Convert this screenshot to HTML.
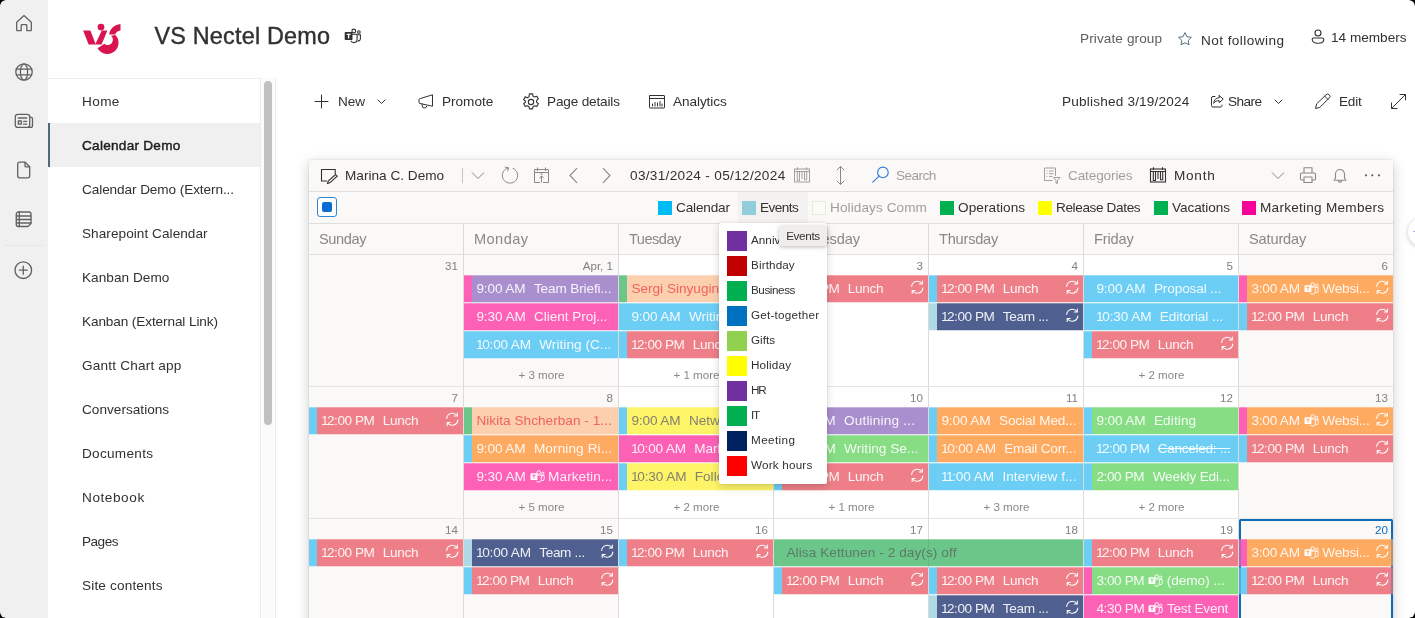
<!DOCTYPE html>
<html><head><meta charset="utf-8"><title>VS Nectel Demo - Calendar Demo</title>
<style>
*{box-sizing:border-box;margin:0;padding:0}
html,body{width:1415px;height:618px;overflow:hidden;background:#000}
body{font-family:"Liberation Sans",sans-serif;color:#323130;-webkit-font-smoothing:antialiased}
#app{position:absolute;left:0;top:0;width:1415px;height:618px;background:#fff;border-radius:6px;overflow:hidden;-webkit-mask-image:linear-gradient(#000,#000);mask-image:linear-gradient(#000,#000)}
.abs,#app div,#app svg.a,#app span.a{position:absolute}
#w{left:0;top:0;width:1415px;height:618px;will-change:transform}
#rail{left:0;top:0;width:48px;height:618px;background:#f0f0f0}
.ri{stroke:#616161;fill:none;stroke-width:1.3;stroke-linecap:round;stroke-linejoin:round}
/* nav */
#navtop{left:48px;top:78px;width:213px;height:1px;background:#ececec}
#navr{left:260px;top:78px;width:1px;height:540px;background:#ececec}
#track{left:261px;top:78px;width:14px;height:540px;background:#fbfbfb}
#trackr{left:275px;top:78px;width:1px;height:540px;background:#ececec}
#thumb{left:264px;top:81px;width:8px;height:344px;background:#c1c1c1;border-radius:4px}
.ni{left:82px;width:170px;height:20px;line-height:20px;font-size:13.6px;color:#323130;white-space:nowrap}
#sel{left:48px;top:123px;width:212px;height:44px;background:#f0f0f0}
#selbar{left:48px;top:123px;width:2px;height:44px;background:#4f6b78}
/* header */
#title{left:154.4px;top:20px;height:32px;line-height:32px;font-size:23.4px;color:#323130;white-space:nowrap;-webkit-text-stroke:0.4px #323130}
.ht{font-size:13.6px;white-space:nowrap;height:20px;line-height:20px}
.cb{font-size:13.6px;white-space:nowrap;height:20px;line-height:20px;top:92px;color:#323130}
.ic{stroke:#323130;fill:none;stroke-width:1;stroke-linecap:round;stroke-linejoin:round}
/* card */
#shadow{left:309px;top:160px;width:1084px;height:500px;box-shadow:0 3px 12px rgba(0,0,0,.2),0 0 2px rgba(0,0,0,.12);background:#faf9f8}
#card{left:309px;top:160px;width:1084px;height:458px;background:#faf9f8}
#cal{left:0;top:0;width:1415px;height:618px}
.tl{left:309px;width:1084px;height:1px;background:#e1dfdd}
.tb{font-size:13.6px;white-space:nowrap;height:20px;line-height:20px;top:166px}
.lg{font-size:13.6px;white-space:nowrap;height:20px;line-height:20px;top:198px;color:#323130}
.sq{top:201px;width:14px;height:14px}
.wk{background:#fff}
.vl{top:224px;width:1px;height:400px;background:#dddbd9}
.hl{left:309px;width:1084px;height:1px;background:#e6e4e2}
.dh{top:229px;height:20px;line-height:20px;font-size:14.6px;color:#8a8886;white-space:nowrap}
.dn{width:149px;height:20px;line-height:20px;text-align:right;font-size:11.6px;color:#83817f;white-space:nowrap}
.dn.today{color:#0f6cbd}
.more{width:155px;height:18px;line-height:18px;text-align:center;font-size:11.6px;color:#8a8886;white-space:nowrap}
.ev{height:28px;overflow:hidden;white-space:nowrap;-webkit-mask-image:linear-gradient(to bottom,rgba(0,0,0,.7) 0,rgba(0,0,0,.7) 1px,#000 1px,#000 27px,rgba(0,0,0,.25) 27px,rgba(0,0,0,.25) 28px);mask-image:linear-gradient(to bottom,rgba(0,0,0,.7) 0,rgba(0,0,0,.7) 1px,#000 1px,#000 27px,rgba(0,0,0,.25) 27px,rgba(0,0,0,.25) 28px)}
.ev i{position:absolute;left:0;top:0;width:8px;height:28px}
.ev .t{position:absolute;left:12.4px;top:1px;height:26px;line-height:26px;font-size:13.6px;color:rgba(255,255,255,.9);white-space:nowrap;font-style:normal}
.ev b{font-weight:normal;margin-right:8.4px;display:inline-block}
.ev em{font-style:normal}
.ev u{text-decoration:none;margin:0 -1.3px}
.ev u.f{margin-left:-0.3px}
.ev s{text-decoration:line-through}
.ev .tm{position:relative;top:1.5px;margin:0 3.5px 0 -4.5px}
.ev .rc{position:absolute;right:2.8px;top:4.2px}
/* popup */
#pop{left:719px;top:223px;width:108px;height:261px;background:#fff;border-radius:2px;box-shadow:0 3px 8px rgba(0,0,0,.16),0 0 2px rgba(0,0,0,.12)}
#pop .s{left:8px;width:20px;height:20px}
#pop .l{left:32px;margin-top:-1px;height:20px;line-height:20px;font-size:11.7px;color:#323130;white-space:nowrap}
#tip{left:779px;top:226px;width:48px;height:20px;background:#efeeed;border-radius:3px;box-shadow:0 1px 4px rgba(0,0,0,.28);font-size:11.7px;line-height:20px;text-align:center;color:#323130}
</style></head><body>
<div id="app">
<div id="w">

<!-- left rail -->
<div id="rail">
<svg class="a" style="left:14px;top:13px" width="20" height="20" viewBox="0 0 20 20"><path class="ri" d="M2.7 9.3 10 2.6l7.3 6.7v7.6a.8.8 0 0 1-.8.8h-3.7v-5.3a.8.8 0 0 0-.8-.8H8a.8.8 0 0 0-.8.8v5.3H3.500a.8.8 0 0 1-.8-.8z" stroke-width="1.5"/></svg>
<svg class="a" style="left:14px;top:62px" width="20" height="20" viewBox="0 0 20 20"><g class="ri" stroke-width="1.4"><circle cx="10" cy="10" r="8.2"/><ellipse cx="10" cy="10" rx="3.6" ry="8.2"/><path d="M2.3 7.2h15.400M2.3 12.800h15.400"/></g></svg>
<svg class="a" style="left:14px;top:111px" width="20" height="20" viewBox="0 0 20 20"><g class="ri" stroke-width="1.4"><rect x="1.300" y="3.400" width="14.400" height="13" rx="2.300"/><path d="M15.700 6.200h.8a2 2 0 0 1 2 2v6.200a2 2 0 0 1-2 2h-2"/><path d="M4.300 7h8.400M9.500 10.300h3.200M9.500 13.100h3.200"/><rect x="4.300" y="10" width="3" height="3.200"/></g></svg>
<svg class="a" style="left:14px;top:160px" width="20" height="20" viewBox="0 0 20 20"><g class="ri" stroke-width="1.4"><path d="M5.700 2.200h5.400l4.600 4.600v9a2 2 0 0 1-2 2H5.700a2 2 0 0 1-2-2V4.200a2 2 0 0 1 2-2z"/><path d="M11 2.400v3.300a1.200 1.200 0 0 0 1.200 1.200h3.300"/></g></svg>
<svg class="a" style="left:14px;top:209px" width="20" height="20" viewBox="0 0 20 20"><g class="ri" stroke-width="1.300"><path d="M4.300 3h10.700a2 2 0 0 1 2 2v9.500l-3 3H4.300a2 2 0 0 1-2-2V5a2 2 0 0 1 2-2z"/><path d="M2.300 7h14.700M2.300 10.500h14.700M2.300 14h14.700M5.300 3v14.500"/></g></svg>
<div style="left:4px;top:245px;width:39px;height:1px;background:#e6e6e6"></div>
<svg class="a" style="left:13px;top:260px" width="20" height="20" viewBox="0 0 20 20"><g class="ri" stroke-width="1.300"><circle cx="10.300" cy="10.200" r="8.300"/><path d="M10.300 6.200v8M6.300 10.200h8"/></g></svg>
</div>

<!-- site header -->
<svg class="a" style="left:82px;top:23px" width="41" height="33" viewBox="0 0 41 33">
<g fill="#d9154f">
<path d="M1.100 7.600h7.300l5.400 13.900h-7.200z"/>
<path d="M19.800 7.600h5.600l-5.800 13.900h-6.400z"/>
<circle cx="19" cy="4.100" r="3.400"/>
<path d="M27.200 11.400C27.700 6.500 32 1.900 38.500 1.100v6.400c-2.800.3-4.500 1.800-5.300 3.900z"/>
<path d="M33.500 12.100A11.200 11.200 0 1 1 15.600 25.300L22.300 20.800A5.200 5.200 0 0 0 29 12.800Z"/>
</g></svg>
<div id="title"><span style="letter-spacing:0.21px">VS Nectel Demo</span></div>
<svg class="a" style="left:343.700px;top:27.600px" width="18" height="16" viewBox="0 0 18 16"><g fill="none" stroke="#323130" stroke-width="1.100"><circle cx="9.800" cy="3" r="1.900"/><circle cx="14.900" cy="4" r="1.300"/><path d="M7.500 6.300h5.600v5a3.300 3.300 0 0 1-3.300 3.300 3.300 3.300 0 0 1-3-1.800"/><path d="M13.300 6.800h3.100v4a2.200 2.200 0 0 1-2.900 2"/></g><rect x=".700" y="4.100" width="7.800" height="7.900" rx=".8" fill="#323130"/><path d="M2.700 6.300h3.900M4.600 6.300v4.100" stroke="#fff" stroke-width="1.300" fill="none"/></svg>

<div class="ht" style="left:1080px;top:29px;color:#605e5c"><span style="letter-spacing:0.10px">Private group</span></div>
<svg class="a" style="left:1177px;top:31px" width="16" height="16" viewBox="0 0 18 18"><path d="M9 1.800l2.200 4.600 5 .7-3.600 3.500.9 5L9 13.200l-4.500 2.400.9-5L1.800 7.100l5-.7z" fill="none" stroke="#4f6b78" stroke-width="1.100" stroke-linejoin="round"/></svg>
<div class="ht" style="left:1201px;top:31px;color:#323130"><span style="letter-spacing:0.43px">Not following</span></div>
<svg class="a" style="left:1310px;top:28px" width="16" height="18" viewBox="0 0 16 18"><g fill="none" stroke="#323130" stroke-width="1.100"><circle cx="8" cy="5" r="3"/><path d="M3.700 10h8.600a1.500 1.500 0 0 1 1.500 1.500c0 2.300-2.300 3.800-5.800 3.800s-5.800-1.500-5.800-3.800A1.500 1.500 0 0 1 3.700 10z"/></g></svg>
<div class="ht" style="left:1331px;top:28px;color:#323130"><span style="letter-spacing:0.00px">14 members</span></div>

<!-- left nav -->
<div id="navtop"></div><div id="track"></div><div id="navr"></div><div id="trackr"></div><div id="thumb"></div>
<div id="sel"></div><div id="selbar"></div>

<div class="ni" style="top:92px"><span style="letter-spacing:0.38px">Home</span></div>
<div class="ni" style="top:136px;-webkit-text-stroke:0.45px #201f1e;color:#201f1e"><span style="letter-spacing:0.26px">Calendar Demo</span></div>
<div class="ni" style="top:180px"><span style="letter-spacing:-0.09px">Calendar Demo (Extern...</span></div>
<div class="ni" style="top:224px"><span style="letter-spacing:0.05px">Sharepoint Calendar</span></div>
<div class="ni" style="top:268px"><span style="letter-spacing:0.05px">Kanban Demo</span></div>
<div class="ni" style="top:312px"><span style="letter-spacing:-0.11px">Kanban (External Link)</span></div>
<div class="ni" style="top:356px"><span style="letter-spacing:0.19px">Gantt Chart app</span></div>
<div class="ni" style="top:400px"><span style="letter-spacing:0.02px">Conversations</span></div>
<div class="ni" style="top:444px"><span style="letter-spacing:0.28px">Documents</span></div>
<div class="ni" style="top:488px"><span style="letter-spacing:0.57px">Notebook</span></div>
<div class="ni" style="top:532px"><span style="letter-spacing:-0.51px">Pages</span></div>
<div class="ni" style="top:576px"><span style="letter-spacing:0.16px">Site contents</span></div>

<!-- command bar -->
<svg class="a" style="left:314px;top:94px" width="15" height="15" viewBox="0 0 15 15"><path class="ic" d="M7.500 1v13M1 7.500h13" stroke-width="1.200"/></svg>
<div class="cb" style="left:338px"><span style="letter-spacing:-0.10px">New</span></div>
<svg class="a" style="left:377px;top:99px" width="9" height="6" viewBox="0 0 9 6"><path class="ic" d="M1 1l3.500 3.500L8 1" stroke="#605e5c"/></svg>
<svg class="a" style="left:417px;top:93px" width="18" height="18" viewBox="0 0 18 18"><g class="ic" stroke-width="1.100"><path d="M15.500 2.200v11L3 10.500a1.200 1.200 0 0 1-1-1.200V6.800a1.200 1.200 0 0 1 1-1.200z"/><path d="M5.200 11v1.800a2.300 2.300 0 0 0 4.500.6"/></g></svg>
<div class="cb" style="left:442px"><span style="letter-spacing:-0.01px">Promote</span></div>
<svg class="a" style="left:521px;top:92px" width="20" height="20" viewBox="0 0 18 18"><g class="ic" stroke-width="1.100"><circle cx="9" cy="9" r="2.400"/><path d="M7.600 1.700h2.800l.4 2 1.500.8 1.900-.7 1.400 2.400-1.500 1.300v1.800l1.500 1.300-1.400 2.400-1.900-.7-1.500.9-.4 2H7.600l-.4-2-1.500-.9-1.900.7-1.400-2.400 1.500-1.300V8.100L2.400 6.800l1.400-2.400 1.900.7 1.500-.8z"/></g></svg>
<div class="cb" style="left:547px"><span style="letter-spacing:-0.17px">Page details</span></div>
<svg class="a" style="left:648px;top:93px" width="18" height="18" viewBox="0 0 18 18"><g class="ic" stroke-width="1.100"><rect x="1.500" y="2.500" width="15" height="12.500" rx=".5"/><path d="M1.500 5.500h15"/><path d="M4.500 13v-2M7 13V9.500M9.500 13v-3M12 13V8.500M14 13v-2" stroke-width="1"/></g></svg>
<div class="cb" style="left:673px"><span style="letter-spacing:-0.08px">Analytics</span></div>

<div class="cb" style="left:1062px"><span style="letter-spacing:0.19px">Published 3/19/2024</span></div>
<svg class="a" style="left:1209px;top:93px" width="17" height="17" viewBox="0 0 17 17"><g class="ic" stroke-width="1.100"><path d="M6 3.500H4a1.500 1.500 0 0 0-1.500 1.500v7.500A1.500 1.500 0 0 0 4 14h7.500a1.500 1.500 0 0 0 1.500-1.500V12"/><path d="M10.200 2.500l4 3.600-4 3.600V7.600c-2.700 0-4.300.9-5.500 2.700.3-3.200 2-5.400 5.500-5.700z"/></g></svg>
<div class="cb" style="left:1228px"><span style="letter-spacing:-0.57px">Share</span></div>
<svg class="a" style="left:1274px;top:99px" width="9" height="6" viewBox="0 0 9 6"><path class="ic" d="M1 1l3.500 3.500L8 1" stroke="#605e5c"/></svg>
<svg class="a" style="left:1313px;top:92px" width="19" height="19" viewBox="0 0 19 19"><g class="ic" stroke-width="1.100"><path d="M13.200 2.600a1.900 1.900 0 0 1 2.700 0l.5.500a1.900 1.900 0 0 1 0 2.700L6.800 15.400l-4.300 1.100 1.100-4.300z"/><path d="M11.700 4.100l3.200 3.200"/></g></svg>
<div class="cb" style="left:1339px"><span style="letter-spacing:-0.25px">Edit</span></div>
<svg class="a" style="left:1390px;top:93px" width="17" height="17" viewBox="0 0 17 17"><g class="ic" stroke-width="1.100"><path d="M10 1.500h5.500V7M15.500 1.500l-14 14M7 15.500H1.500V10"/></g></svg>

<!-- calendar card -->
<div id="shadow"></div>
<div id="card"></div>
<div id="cal">
<div class="wk" style="left:619px;top:255px;width:619px;height:400px"></div><div class="vl" style="left:463px"></div><div class="vl" style="left:618px"></div><div class="vl" style="left:773px"></div><div class="vl" style="left:928px"></div><div class="vl" style="left:1083px"></div><div class="vl" style="left:1238px"></div><div class="hl" style="top:386px"></div><div class="hl" style="top:518px"></div><div style="left:1239px;top:519px;width:154px;height:134px;border:2px solid #0f6cbd;border-radius:2px"></div><div class="dh" style="left:319px"><span style="letter-spacing:-0.38px">Sunday</span></div><div class="dh" style="left:474px"><span style="letter-spacing:0.42px">Monday</span></div><div class="dh" style="left:629px"><span style="letter-spacing:-0.52px">Tuesday</span></div><div class="dh" style="left:784px"><span style="letter-spacing:-0.10px">Wednesday</span></div><div class="dh" style="left:939px"><span style="letter-spacing:-0.22px">Thursday</span></div><div class="dh" style="left:1094px"><span style="letter-spacing:-0.17px">Friday</span></div><div class="dh" style="left:1249px"><span style="letter-spacing:-0.16px">Saturday</span></div><div class="dn" style="left:309px;top:256px">31</div><div class="dn" style="left:464px;top:256px">Apr, 1</div><div class="dn" style="left:619px;top:256px">2</div><div class="dn" style="left:774px;top:256px">3</div><div class="dn" style="left:929px;top:256px">4</div><div class="dn" style="left:1084px;top:256px">5</div><div class="dn" style="left:1239px;top:256px">6</div><div class="dn" style="left:309px;top:388px">7</div><div class="dn" style="left:464px;top:388px">8</div><div class="dn" style="left:619px;top:388px">9</div><div class="dn" style="left:774px;top:388px">10</div><div class="dn" style="left:929px;top:388px">11</div><div class="dn" style="left:1084px;top:388px">12</div><div class="dn" style="left:1239px;top:388px">13</div><div class="dn" style="left:309px;top:520px">14</div><div class="dn" style="left:464px;top:520px">15</div><div class="dn" style="left:619px;top:520px">16</div><div class="dn" style="left:774px;top:520px">17</div><div class="dn" style="left:929px;top:520px">18</div><div class="dn" style="left:1084px;top:520px">19</div><div class="dn today" style="left:1239px;top:520px">20</div><div class="ev" style="left:464px;top:275px;width:154px;background:#a98fcd"><i style="background:#fc61b6"></i><span class="t" style=""><b style="letter-spacing:-0.11px">9:00 AM</b><em style="letter-spacing:-0.13px">Team Briefi...</em></span></div><div class="ev" style="left:464px;top:303px;width:154px;background:#fc61b6"><span class="t" style=""><b style="letter-spacing:-0.08px">9:30 AM</b><em style="letter-spacing:-0.06px">Client Proj...</em></span></div><div class="ev" style="left:464px;top:331px;width:154px;background:#6dcef5"><span class="t" style=""><b style="letter-spacing:-0.18px"><u class="f">1</u>0:00 AM</b><em style="letter-spacing:0.05px">Writing (C...</em></span></div><div class="ev" style="left:619px;top:275px;width:154px;background:#fccfae"><i style="background:#6bc789"></i><span class="t" style="color:#f0645c;"><em >Sergi Sinyugin - ...</em></span></div><div class="ev" style="left:619px;top:303px;width:154px;background:#6dcef5"><span class="t" style=""><b style="letter-spacing:-0.11px">9:00 AM</b><em >Writing (C...</em></span></div><div class="ev" style="left:619px;top:331px;width:154px;background:#ee7f88"><i style="background:#6dcef5"></i><span class="t" style=""><b style="letter-spacing:-0.44px"><u class="f">1</u>2:00 PM</b><em style="letter-spacing:-0.31px">Lunch</em></span><svg class="rc" viewBox="0 0 16 16" width="16.500" height="16.500"><g fill="none" stroke="#fff" stroke-width="1.05" stroke-linecap="round" stroke-linejoin="round"><path d="M2.6 7.2A5.5 5.5 0 0 1 12.6 4.6"/><path d="M13.4 8.8A5.5 5.5 0 0 1 3.4 11.4"/><path d="M12.9 1.9v2.9H10"/><path d="M3.1 14.1v-2.9H6"/></g></svg></div><div class="ev" style="left:774px;top:275px;width:154px;background:#ee7f88"><i style="background:#6dcef5"></i><span class="t" style=""><b style="letter-spacing:-0.44px"><u class="f">1</u>2:00 PM</b><em style="letter-spacing:-0.31px">Lunch</em></span><svg class="rc" viewBox="0 0 16 16" width="16.500" height="16.500"><g fill="none" stroke="#fff" stroke-width="1.05" stroke-linecap="round" stroke-linejoin="round"><path d="M2.6 7.2A5.5 5.5 0 0 1 12.6 4.6"/><path d="M13.4 8.8A5.5 5.5 0 0 1 3.4 11.4"/><path d="M12.9 1.9v2.9H10"/><path d="M3.1 14.1v-2.9H6"/></g></svg></div><div class="ev" style="left:929px;top:275px;width:154px;background:#ee7f88"><i style="background:#6dcef5"></i><span class="t" style=""><b style="letter-spacing:-0.44px"><u class="f">1</u>2:00 PM</b><em style="letter-spacing:-0.31px">Lunch</em></span><svg class="rc" viewBox="0 0 16 16" width="16.500" height="16.500"><g fill="none" stroke="#fff" stroke-width="1.05" stroke-linecap="round" stroke-linejoin="round"><path d="M2.6 7.2A5.5 5.5 0 0 1 12.6 4.6"/><path d="M13.4 8.8A5.5 5.5 0 0 1 3.4 11.4"/><path d="M12.9 1.9v2.9H10"/><path d="M3.1 14.1v-2.9H6"/></g></svg></div><div class="ev" style="left:929px;top:303px;width:154px;background:#4f5f8f"><i style="background:#b0d9e6"></i><span class="t" style=""><b style="letter-spacing:-0.44px"><u class="f">1</u>2:00 PM</b><em style="letter-spacing:-0.34px">Team ...</em></span><svg class="rc" viewBox="0 0 16 16" width="16.500" height="16.500"><g fill="none" stroke="#fff" stroke-width="1.05" stroke-linecap="round" stroke-linejoin="round"><path d="M2.6 7.2A5.5 5.5 0 0 1 12.6 4.6"/><path d="M13.4 8.8A5.5 5.5 0 0 1 3.4 11.4"/><path d="M12.9 1.9v2.9H10"/><path d="M3.1 14.1v-2.9H6"/></g></svg></div><div class="ev" style="left:1084px;top:275px;width:154px;background:#6dcef5"><span class="t" style=""><b style="letter-spacing:-0.11px">9:00 AM</b><em style="letter-spacing:-0.11px">Proposal ...</em></span></div><div class="ev" style="left:1084px;top:303px;width:154px;background:#6dcef5"><span class="t" style=""><b style="letter-spacing:-0.11px"><u class="f">1</u>0:30 AM</b><em style="letter-spacing:-0.06px">Editorial ...</em></span></div><div class="ev" style="left:1084px;top:331px;width:154px;background:#ee7f88"><i style="background:#6dcef5"></i><span class="t" style=""><b style="letter-spacing:-0.44px"><u class="f">1</u>2:00 PM</b><em style="letter-spacing:-0.31px">Lunch</em></span><svg class="rc" viewBox="0 0 16 16" width="16.500" height="16.500"><g fill="none" stroke="#fff" stroke-width="1.05" stroke-linecap="round" stroke-linejoin="round"><path d="M2.6 7.2A5.5 5.5 0 0 1 12.6 4.6"/><path d="M13.4 8.8A5.5 5.5 0 0 1 3.4 11.4"/><path d="M12.9 1.9v2.9H10"/><path d="M3.1 14.1v-2.9H6"/></g></svg></div><div class="ev" style="left:1239px;top:275px;width:154px;background:#feab61"><i style="background:#fc61b6"></i><span class="t" style=""><b style="letter-spacing:-0.20px">3:00 AM</b><svg class="tm" viewBox="0 0 16 14" width="15" height="13"><g fill="none" stroke="#fff" stroke-width="1"><circle cx="9.3" cy="2.6" r="1.9"/><circle cx="13.6" cy="3.6" r="1.3"/><path d="M6.5 5.5h5.6v4.6a3 3 0 0 1-3 3 3 3 0 0 1-2.6-1.6"/><path d="M12.3 6h2.9v3.6a2 2 0 0 1-2.6 1.8"/></g><rect x="0.5" y="3.5" width="7.4" height="7.4" rx="0.8" fill="#fff"/><path d="M2.4 5.6h3.6M4.2 5.6v3.6" stroke="#feab61" stroke-width="1.1" fill="none"/></svg><em style="letter-spacing:-0.19px">Websi...</em></span><svg class="rc" viewBox="0 0 16 16" width="16.500" height="16.500"><g fill="none" stroke="#fff" stroke-width="1.05" stroke-linecap="round" stroke-linejoin="round"><path d="M2.6 7.2A5.5 5.5 0 0 1 12.6 4.6"/><path d="M13.4 8.8A5.5 5.5 0 0 1 3.4 11.4"/><path d="M12.9 1.9v2.9H10"/><path d="M3.1 14.1v-2.9H6"/></g></svg></div><div class="ev" style="left:1239px;top:303px;width:154px;background:#ee7f88"><i style="background:#6dcef5"></i><span class="t" style=""><b style="letter-spacing:-0.44px"><u class="f">1</u>2:00 PM</b><em style="letter-spacing:-0.31px">Lunch</em></span><svg class="rc" viewBox="0 0 16 16" width="16.500" height="16.500"><g fill="none" stroke="#fff" stroke-width="1.05" stroke-linecap="round" stroke-linejoin="round"><path d="M2.6 7.2A5.5 5.5 0 0 1 12.6 4.6"/><path d="M13.4 8.8A5.5 5.5 0 0 1 3.4 11.4"/><path d="M12.9 1.9v2.9H10"/><path d="M3.1 14.1v-2.9H6"/></g></svg></div><div class="ev" style="left:309px;top:407px;width:154px;background:#ee7f88"><i style="background:#6dcef5"></i><span class="t" style=""><b style="letter-spacing:-0.44px"><u class="f">1</u>2:00 PM</b><em style="letter-spacing:-0.31px">Lunch</em></span><svg class="rc" viewBox="0 0 16 16" width="16.500" height="16.500"><g fill="none" stroke="#fff" stroke-width="1.05" stroke-linecap="round" stroke-linejoin="round"><path d="M2.6 7.2A5.5 5.5 0 0 1 12.6 4.6"/><path d="M13.4 8.8A5.5 5.5 0 0 1 3.4 11.4"/><path d="M12.9 1.9v2.9H10"/><path d="M3.1 14.1v-2.9H6"/></g></svg></div><div class="ev" style="left:464px;top:407px;width:154px;background:#fccfae"><i style="background:#6bc789"></i><span class="t" style="color:#f0645c;"><em style="letter-spacing:0.04px">Nikita Shcherban - 1...</em></span></div><div class="ev" style="left:464px;top:435px;width:154px;background:#feab61"><i style="background:#6dcef5"></i><span class="t" style=""><b style="letter-spacing:-0.11px">9:00 AM</b><em style="letter-spacing:0.11px">Morning Ri...</em></span></div><div class="ev" style="left:464px;top:463px;width:154px;background:#fc61b6"><span class="t" style=""><b style="letter-spacing:-0.08px">9:30 AM</b><svg class="tm" viewBox="0 0 16 14" width="15" height="13"><g fill="none" stroke="#fff" stroke-width="1"><circle cx="9.3" cy="2.6" r="1.9"/><circle cx="13.6" cy="3.6" r="1.3"/><path d="M6.5 5.5h5.6v4.6a3 3 0 0 1-3 3 3 3 0 0 1-2.6-1.6"/><path d="M12.3 6h2.9v3.6a2 2 0 0 1-2.6 1.8"/></g><rect x="0.5" y="3.5" width="7.4" height="7.4" rx="0.8" fill="#fff"/><path d="M2.4 5.6h3.6M4.2 5.6v3.6" stroke="#fc61b6" stroke-width="1.1" fill="none"/></svg><em style="letter-spacing:0.07px">Marketin...</em></span></div><div class="ev" style="left:619px;top:407px;width:154px;background:#fdf468"><i style="background:#6dcef5"></i><span class="t" style="color:#838170;"><b style="letter-spacing:-0.11px">9:00 AM</b><em >Network...</em></span></div><div class="ev" style="left:619px;top:435px;width:154px;background:#fc61b6"><span class="t" style=""><b style="letter-spacing:-0.18px"><u class="f">1</u>0:00 AM</b><em >Marketi...</em></span></div><div class="ev" style="left:619px;top:463px;width:154px;background:#fdf468"><i style="background:#6dcef5"></i><span class="t" style="color:#838170;"><b style="letter-spacing:-0.11px"><u class="f">1</u>0:30 AM</b><em >Follow ...</em></span></div><div class="ev" style="left:774px;top:407px;width:154px;background:#a98fcd"><i style="background:#6dcef5"></i><span class="t" style=""><b style="letter-spacing:-0.11px">9:00 AM</b><em style="letter-spacing:0.20px">Outlining ...</em></span></div><div class="ev" style="left:774px;top:435px;width:154px;background:#87dd84"><i style="background:#6dcef5"></i><span class="t" style=""><b style="letter-spacing:-0.08px">9:30 AM</b><em style="letter-spacing:0.03px">Writing Se...</em></span></div><div class="ev" style="left:774px;top:463px;width:154px;background:#ee7f88"><i style="background:#6dcef5"></i><span class="t" style=""><b style="letter-spacing:-0.44px"><u class="f">1</u>2:00 PM</b><em style="letter-spacing:-0.31px">Lunch</em></span><svg class="rc" viewBox="0 0 16 16" width="16.500" height="16.500"><g fill="none" stroke="#fff" stroke-width="1.05" stroke-linecap="round" stroke-linejoin="round"><path d="M2.6 7.2A5.5 5.5 0 0 1 12.6 4.6"/><path d="M13.4 8.8A5.5 5.5 0 0 1 3.4 11.4"/><path d="M12.9 1.9v2.9H10"/><path d="M3.1 14.1v-2.9H6"/></g></svg></div><div class="ev" style="left:929px;top:407px;width:154px;background:#feab61"><i style="background:#6dcef5"></i><span class="t" style=""><b style="letter-spacing:-0.11px">9:00 AM</b><em style="letter-spacing:-0.08px">Social Med...</em></span></div><div class="ev" style="left:929px;top:435px;width:154px;background:#feab61"><i style="background:#6dcef5"></i><span class="t" style=""><b style="letter-spacing:-0.18px"><u class="f">1</u>0:00 AM</b><em style="letter-spacing:-0.21px">Email Corr...</em></span></div><div class="ev" style="left:929px;top:463px;width:154px;background:#6dcef5"><span class="t" style=""><b style="letter-spacing:-0.08px"><u class="f">1</u><u>1</u>:00 AM</b><em style="letter-spacing:0.06px">Interview f...</em></span></div><div class="ev" style="left:1084px;top:407px;width:154px;background:#87dd84"><i style="background:#6dcef5"></i><span class="t" style=""><b style="letter-spacing:-0.11px">9:00 AM</b><em style="letter-spacing:0.12px">Editing</em></span></div><div class="ev" style="left:1084px;top:435px;width:154px;background:#6dcef5"><span class="t" style=""><b style="letter-spacing:-0.44px"><u class="f">1</u>2:00 PM</b><em style="letter-spacing:-0.31px"><s>Canceled: ...</s></em></span></div><div class="ev" style="left:1084px;top:463px;width:154px;background:#87dd84"><i style="background:#6dcef5"></i><span class="t" style=""><b style="letter-spacing:-0.39px">2:00 PM</b><em style="letter-spacing:-0.16px">Weekly Edi...</em></span></div><div class="ev" style="left:1239px;top:407px;width:154px;background:#feab61"><i style="background:#fc61b6"></i><span class="t" style=""><b style="letter-spacing:-0.20px">3:00 AM</b><svg class="tm" viewBox="0 0 16 14" width="15" height="13"><g fill="none" stroke="#fff" stroke-width="1"><circle cx="9.3" cy="2.6" r="1.9"/><circle cx="13.6" cy="3.6" r="1.3"/><path d="M6.5 5.5h5.6v4.6a3 3 0 0 1-3 3 3 3 0 0 1-2.6-1.6"/><path d="M12.3 6h2.9v3.6a2 2 0 0 1-2.6 1.8"/></g><rect x="0.5" y="3.5" width="7.4" height="7.4" rx="0.8" fill="#fff"/><path d="M2.4 5.6h3.6M4.2 5.6v3.6" stroke="#feab61" stroke-width="1.1" fill="none"/></svg><em style="letter-spacing:-0.19px">Websi...</em></span><svg class="rc" viewBox="0 0 16 16" width="16.500" height="16.500"><g fill="none" stroke="#fff" stroke-width="1.05" stroke-linecap="round" stroke-linejoin="round"><path d="M2.6 7.2A5.5 5.5 0 0 1 12.6 4.6"/><path d="M13.4 8.8A5.5 5.5 0 0 1 3.4 11.4"/><path d="M12.9 1.9v2.9H10"/><path d="M3.1 14.1v-2.9H6"/></g></svg></div><div class="ev" style="left:1239px;top:435px;width:154px;background:#ee7f88"><i style="background:#6dcef5"></i><span class="t" style=""><b style="letter-spacing:-0.44px"><u class="f">1</u>2:00 PM</b><em style="letter-spacing:-0.31px">Lunch</em></span><svg class="rc" viewBox="0 0 16 16" width="16.500" height="16.500"><g fill="none" stroke="#fff" stroke-width="1.05" stroke-linecap="round" stroke-linejoin="round"><path d="M2.6 7.2A5.5 5.5 0 0 1 12.6 4.6"/><path d="M13.4 8.8A5.5 5.5 0 0 1 3.4 11.4"/><path d="M12.9 1.9v2.9H10"/><path d="M3.1 14.1v-2.9H6"/></g></svg></div><div class="ev" style="left:309px;top:539px;width:154px;background:#ee7f88"><i style="background:#6dcef5"></i><span class="t" style=""><b style="letter-spacing:-0.44px"><u class="f">1</u>2:00 PM</b><em style="letter-spacing:-0.31px">Lunch</em></span><svg class="rc" viewBox="0 0 16 16" width="16.500" height="16.500"><g fill="none" stroke="#fff" stroke-width="1.05" stroke-linecap="round" stroke-linejoin="round"><path d="M2.6 7.2A5.5 5.5 0 0 1 12.6 4.6"/><path d="M13.4 8.8A5.5 5.5 0 0 1 3.4 11.4"/><path d="M12.9 1.9v2.9H10"/><path d="M3.1 14.1v-2.9H6"/></g></svg></div><div class="ev" style="left:464px;top:539px;width:154px;background:#4f5f8f"><i style="background:#b0d9e6"></i><span class="t" style=""><b style="letter-spacing:-0.18px"><u class="f">1</u>0:00 AM</b><em style="letter-spacing:-0.34px">Team ...</em></span><svg class="rc" viewBox="0 0 16 16" width="16.500" height="16.500"><g fill="none" stroke="#fff" stroke-width="1.05" stroke-linecap="round" stroke-linejoin="round"><path d="M2.6 7.2A5.5 5.5 0 0 1 12.6 4.6"/><path d="M13.4 8.8A5.5 5.5 0 0 1 3.4 11.4"/><path d="M12.9 1.9v2.9H10"/><path d="M3.1 14.1v-2.9H6"/></g></svg></div><div class="ev" style="left:464px;top:567px;width:154px;background:#ee7f88"><i style="background:#6dcef5"></i><span class="t" style=""><b style="letter-spacing:-0.44px"><u class="f">1</u>2:00 PM</b><em style="letter-spacing:-0.31px">Lunch</em></span><svg class="rc" viewBox="0 0 16 16" width="16.500" height="16.500"><g fill="none" stroke="#fff" stroke-width="1.05" stroke-linecap="round" stroke-linejoin="round"><path d="M2.6 7.2A5.5 5.5 0 0 1 12.6 4.6"/><path d="M13.4 8.8A5.5 5.5 0 0 1 3.4 11.4"/><path d="M12.9 1.9v2.9H10"/><path d="M3.1 14.1v-2.9H6"/></g></svg></div><div class="ev" style="left:619px;top:539px;width:154px;background:#ee7f88"><i style="background:#6dcef5"></i><span class="t" style=""><b style="letter-spacing:-0.44px"><u class="f">1</u>2:00 PM</b><em style="letter-spacing:-0.31px">Lunch</em></span><svg class="rc" viewBox="0 0 16 16" width="16.500" height="16.500"><g fill="none" stroke="#fff" stroke-width="1.05" stroke-linecap="round" stroke-linejoin="round"><path d="M2.6 7.2A5.5 5.5 0 0 1 12.6 4.6"/><path d="M13.4 8.8A5.5 5.5 0 0 1 3.4 11.4"/><path d="M12.9 1.9v2.9H10"/><path d="M3.1 14.1v-2.9H6"/></g></svg></div><div class="ev" style="left:774px;top:539px;width:309px;background:#6bc789"><span class="t" style="color:#5d7a68;"><em style="letter-spacing:0.09px">Alisa Kettunen - 2 day(s) off</em></span></div><div class="ev" style="left:774px;top:567px;width:154px;background:#ee7f88"><i style="background:#6dcef5"></i><span class="t" style=""><b style="letter-spacing:-0.44px"><u class="f">1</u>2:00 PM</b><em style="letter-spacing:-0.31px">Lunch</em></span><svg class="rc" viewBox="0 0 16 16" width="16.500" height="16.500"><g fill="none" stroke="#fff" stroke-width="1.05" stroke-linecap="round" stroke-linejoin="round"><path d="M2.6 7.2A5.5 5.5 0 0 1 12.6 4.6"/><path d="M13.4 8.8A5.5 5.5 0 0 1 3.4 11.4"/><path d="M12.9 1.9v2.9H10"/><path d="M3.1 14.1v-2.9H6"/></g></svg></div><div class="ev" style="left:929px;top:567px;width:154px;background:#ee7f88"><i style="background:#6dcef5"></i><span class="t" style=""><b style="letter-spacing:-0.44px"><u class="f">1</u>2:00 PM</b><em style="letter-spacing:-0.31px">Lunch</em></span><svg class="rc" viewBox="0 0 16 16" width="16.500" height="16.500"><g fill="none" stroke="#fff" stroke-width="1.05" stroke-linecap="round" stroke-linejoin="round"><path d="M2.6 7.2A5.5 5.5 0 0 1 12.6 4.6"/><path d="M13.4 8.8A5.5 5.5 0 0 1 3.4 11.4"/><path d="M12.9 1.9v2.9H10"/><path d="M3.1 14.1v-2.9H6"/></g></svg></div><div class="ev" style="left:929px;top:595px;width:154px;background:#4f5f8f"><i style="background:#b0d9e6"></i><span class="t" style=""><b style="letter-spacing:-0.44px"><u class="f">1</u>2:00 PM</b><em style="letter-spacing:-0.34px">Team ...</em></span><svg class="rc" viewBox="0 0 16 16" width="16.500" height="16.500"><g fill="none" stroke="#fff" stroke-width="1.05" stroke-linecap="round" stroke-linejoin="round"><path d="M2.6 7.2A5.5 5.5 0 0 1 12.6 4.6"/><path d="M13.4 8.8A5.5 5.5 0 0 1 3.4 11.4"/><path d="M12.9 1.9v2.9H10"/><path d="M3.1 14.1v-2.9H6"/></g></svg></div><div class="ev" style="left:1084px;top:539px;width:154px;background:#ee7f88"><i style="background:#6dcef5"></i><span class="t" style=""><b style="letter-spacing:-0.44px"><u class="f">1</u>2:00 PM</b><em style="letter-spacing:-0.31px">Lunch</em></span><svg class="rc" viewBox="0 0 16 16" width="16.500" height="16.500"><g fill="none" stroke="#fff" stroke-width="1.05" stroke-linecap="round" stroke-linejoin="round"><path d="M2.6 7.2A5.5 5.5 0 0 1 12.6 4.6"/><path d="M13.4 8.8A5.5 5.5 0 0 1 3.4 11.4"/><path d="M12.9 1.9v2.9H10"/><path d="M3.1 14.1v-2.9H6"/></g></svg></div><div class="ev" style="left:1084px;top:567px;width:154px;background:#87dd84"><i style="background:#fc61b6"></i><span class="t" style=""><b style="letter-spacing:-0.39px">3:00 PM</b><svg class="tm" viewBox="0 0 16 14" width="15" height="13"><g fill="none" stroke="#fff" stroke-width="1"><circle cx="9.3" cy="2.6" r="1.9"/><circle cx="13.6" cy="3.6" r="1.3"/><path d="M6.5 5.5h5.6v4.6a3 3 0 0 1-3 3 3 3 0 0 1-2.6-1.6"/><path d="M12.3 6h2.9v3.6a2 2 0 0 1-2.6 1.8"/></g><rect x="0.5" y="3.5" width="7.4" height="7.4" rx="0.8" fill="#fff"/><path d="M2.4 5.6h3.6M4.2 5.6v3.6" stroke="#87dd84" stroke-width="1.1" fill="none"/></svg><em style="letter-spacing:-0.01px">(demo) ...</em></span></div><div class="ev" style="left:1084px;top:595px;width:154px;background:#fc61b6"><span class="t" style=""><b style="letter-spacing:-0.35px">4:30 PM</b><svg class="tm" viewBox="0 0 16 14" width="15" height="13"><g fill="none" stroke="#fff" stroke-width="1"><circle cx="9.3" cy="2.6" r="1.9"/><circle cx="13.6" cy="3.6" r="1.3"/><path d="M6.5 5.5h5.6v4.6a3 3 0 0 1-3 3 3 3 0 0 1-2.6-1.6"/><path d="M12.3 6h2.9v3.6a2 2 0 0 1-2.6 1.8"/></g><rect x="0.5" y="3.5" width="7.4" height="7.4" rx="0.8" fill="#fff"/><path d="M2.4 5.6h3.6M4.2 5.6v3.6" stroke="#fc61b6" stroke-width="1.1" fill="none"/></svg><em style="letter-spacing:-0.23px">Test Event</em></span></div><div class="ev" style="left:1239px;top:539px;width:154px;background:#feab61"><i style="background:#fc61b6"></i><span class="t" style=""><b style="letter-spacing:-0.20px">3:00 AM</b><svg class="tm" viewBox="0 0 16 14" width="15" height="13"><g fill="none" stroke="#fff" stroke-width="1"><circle cx="9.3" cy="2.6" r="1.9"/><circle cx="13.6" cy="3.6" r="1.3"/><path d="M6.5 5.5h5.6v4.6a3 3 0 0 1-3 3 3 3 0 0 1-2.6-1.6"/><path d="M12.3 6h2.9v3.6a2 2 0 0 1-2.6 1.8"/></g><rect x="0.5" y="3.5" width="7.4" height="7.4" rx="0.8" fill="#fff"/><path d="M2.4 5.6h3.6M4.2 5.6v3.6" stroke="#feab61" stroke-width="1.1" fill="none"/></svg><em style="letter-spacing:-0.19px">Websi...</em></span><svg class="rc" viewBox="0 0 16 16" width="16.500" height="16.500"><g fill="none" stroke="#fff" stroke-width="1.05" stroke-linecap="round" stroke-linejoin="round"><path d="M2.6 7.2A5.5 5.5 0 0 1 12.6 4.6"/><path d="M13.4 8.8A5.5 5.5 0 0 1 3.4 11.4"/><path d="M12.9 1.9v2.9H10"/><path d="M3.1 14.1v-2.9H6"/></g></svg></div><div class="ev" style="left:1239px;top:567px;width:154px;background:#ee7f88"><i style="background:#6dcef5"></i><span class="t" style=""><b style="letter-spacing:-0.44px"><u class="f">1</u>2:00 PM</b><em style="letter-spacing:-0.31px">Lunch</em></span><svg class="rc" viewBox="0 0 16 16" width="16.500" height="16.500"><g fill="none" stroke="#fff" stroke-width="1.05" stroke-linecap="round" stroke-linejoin="round"><path d="M2.6 7.2A5.5 5.5 0 0 1 12.6 4.6"/><path d="M13.4 8.8A5.5 5.5 0 0 1 3.4 11.4"/><path d="M12.9 1.9v2.9H10"/><path d="M3.1 14.1v-2.9H6"/></g></svg></div><div style="left:928px;top:540px;width:1px;height:26px;background:rgba(0,0,0,.07)"></div><div style="left:1239px;top:519px;width:154px;height:134px;border:2px solid rgba(15,108,189,.33);border-radius:2px"></div><div class="more" style="left:464px;top:366px">+ 3 more</div><div class="more" style="left:619px;top:366px">+ 1 more</div><div class="more" style="left:1084px;top:366px">+ 2 more</div><div class="more" style="left:464px;top:498px">+ 5 more</div><div class="more" style="left:619px;top:498px">+ 2 more</div><div class="more" style="left:774px;top:498px">+ 1 more</div><div class="more" style="left:929px;top:498px">+ 3 more</div><div class="more" style="left:1084px;top:498px">+ 2 more</div>
</div>

<div class="tl" style="top:191px"></div>
<div class="tl" style="top:223px"></div>
<div class="tl" style="top:254px"></div>
<!-- toolbar -->
<svg class="a" style="left:320px;top:167px" width="20" height="18" viewBox="0 0 20 18"><g fill="none" stroke="#323130" stroke-width="1.100" stroke-linejoin="miter" stroke-linecap="butt"><path d="M7 14H1.500V2.500h13.700V7"/><path d="M15.600 7.600l1.600 1.600-7.400 6.600-2.300.600.700-2.300z"/></g></svg>
<div class="tb" style="left:345px;color:#323130"><span style="letter-spacing:0.01px">Marina C. Demo</span></div>
<div style="left:462px;top:168px;width:1px;height:15px;background:#c8c6c4"></div>
<svg class="a" style="left:471px;top:171px" width="14" height="9" viewBox="0 0 14 9"><path d="M1 1.500l6 6 6-6" fill="none" stroke="#8a8886" stroke-width="1"/></svg>
<svg class="a" style="left:500px;top:165px" width="20" height="20" viewBox="0 0 20 20"><g fill="none" stroke="#8a8886" stroke-width="1" stroke-linecap="round" stroke-linejoin="round"><path d="M8.200 2.900A7.700 7.700 0 1 0 13 3.300"/><path d="M5.300 2.200l3.200.6-.7 3.100"/></g></svg>
<svg class="a" style="left:533px;top:167px" width="17" height="17" viewBox="0 0 17 17"><g fill="none" stroke="#8a8886" stroke-width="1"><path d="M1.500 2.500h14v13h-5.500M7 15.500H1.500v-13M1.500 5.500h14M4.500 0.500v3.500M12.500 0.500v3.500M8.500 15.500V9M6.300 11.200l2.200-2.200 2.200 2.200"/><path d="M7.500 7h2" stroke-width="1.200"/></g></svg>
<svg class="a" style="left:568px;top:167px" width="11" height="17" viewBox="0 0 11 17"><path d="M9 1.200L2 8.500l7 7.300" fill="none" stroke="#8a8886" stroke-width="1.100"/></svg>
<svg class="a" style="left:601px;top:167px" width="11" height="17" viewBox="0 0 11 17"><path d="M2 1.200l7 7.300-7 7.300" fill="none" stroke="#8a8886" stroke-width="1.100"/></svg>
<div class="tb" style="left:630px;color:#323130"><span style="letter-spacing:0.32px">03/31/2024 - 05/12/2024</span></div>
<svg class="a" style="left:793px;top:167px" width="18" height="16" viewBox="0 0 18 16"><g fill="none" stroke="#a19f9d" stroke-width="1"><rect x="1.500" y="2" width="15" height="13"/><path d="M1.500 4.500h15M4.500 0.300v2.700M13.500 0.300v2.700M4.300 4.500v9h2.200v-9M9 4.500v7.500M11.500 4.500v8.300h2.200v-8.300"/></g></svg>
<svg class="a" style="left:834px;top:165px" width="13" height="21" viewBox="0 0 13 21"><path d="M6.500 1.500v18M2.800 5.200l3.700-3.700 3.700 3.700M2.800 15.800l3.700 3.700 3.700-3.700" fill="none" stroke="#8a8886" stroke-width="1"/></svg>
<svg class="a" style="left:871px;top:165px" width="19" height="19" viewBox="0 0 19 19"><g fill="none" stroke="#2b7fd8" stroke-width="1.150" stroke-linecap="round"><circle cx="11.900" cy="7.400" r="5.300"/><path d="M8.200 11.200L1.800 17.200"/></g></svg>
<div class="tb" style="left:896px;color:#a19f9d"><span style="letter-spacing:-0.56px">Search</span></div>
<svg class="a" style="left:1043px;top:167px" width="18" height="17" viewBox="0 0 18 17"><g fill="none" stroke="#a19f9d" stroke-width="1"><path d="M9.500 13.500H1.500v-12.500h11v8"/><path d="M3.500 4h1M6 4h4.500M3.500 6.700h1M6 6.700h4.500M3.500 9.400h1M6 9.400h3.500"/><path d="M10.500 10.500h6.500l-2.500 2.800v3h-1.500v-3z"/></g></svg>
<div class="tb" style="left:1068px;color:#a19f9d"><span style="letter-spacing:-0.13px">Categories</span></div>
<svg class="a" style="left:1149px;top:167px" width="18" height="16" viewBox="0 0 18 16"><g fill="none" stroke="#323130" stroke-width="1.100"><rect x="1.500" y="2" width="15" height="13"/><path d="M1.500 4.500h15M4.500 0.300v2.700M13.500 0.300v2.700M4.300 4.500v9h2.200v-9M9 4.500v7.500M11.500 4.500v8.300h2.200v-8.300"/></g></svg>
<div class="tb" style="left:1174px;color:#323130"><span style="letter-spacing:0.73px">Month</span></div>
<svg class="a" style="left:1271px;top:171px" width="14" height="9" viewBox="0 0 14 9"><path d="M1 1.500l6 6 6-6" fill="none" stroke="#8a8886" stroke-width="1"/></svg>
<svg class="a" style="left:1299px;top:166px" width="18" height="18" viewBox="0 0 18 18"><g fill="none" stroke="#8a8886" stroke-width="1.100" stroke-linejoin="round"><path d="M5 7V1.800h8V7"/><path d="M5 14H2.700A1.200 1.200 0 0 1 1.500 12.800V8.200A1.200 1.200 0 0 1 2.700 7h12.600a1.200 1.200 0 0 1 1.200 1.200v4.600a1.200 1.200 0 0 1-1.200 1.200H13"/><rect x="5" y="11" width="8" height="5.500"/></g></svg>
<svg class="a" style="left:1332px;top:167px" width="16" height="17" viewBox="0 0 16 17"><g fill="none" stroke="#8a8886" stroke-width="1.100" stroke-linejoin="round"><path d="M2 13.200h12l-1.500-2.200V7a4.500 4.500 0 0 0-9 0v4z"/><path d="M6.300 13.400a1.700 1.700 0 0 0 3.400 0"/></g></svg>
<svg class="a" style="left:1363px;top:172px" width="19" height="6" viewBox="0 0 19 6"><g fill="#605e5c"><circle cx="3" cy="3.300" r="1.100"/><circle cx="9.300" cy="3.300" r="1.100"/><circle cx="16" cy="3.300" r="1.100"/></g></svg>

<!-- legend -->
<div style="left:738px;top:192px;width:70px;height:31px;background:#f3f2f1"></div>
<div style="left:317px;top:197px;width:20px;height:20px;border:1px solid #2b88d8;border-radius:3px;background:#fff"></div>
<div style="left:322px;top:202px;width:10px;height:10px;border-radius:2px;background:#0b6cd4"></div>
<div class="sq" style="left:658px;background:#00bcf2"></div><div class="lg" style="left:676px"><span style="letter-spacing:-0.17px">Calendar</span></div>
<div class="sq" style="left:742px;background:#92cddc"></div><div class="lg" style="left:760px"><span style="letter-spacing:-0.57px">Events</span></div>
<div class="sq" style="left:812px;background:#fbfcf8;border:1px solid #e3efd6"></div><div class="lg" style="left:830px;color:#a19f9d"><span style="letter-spacing:0.08px">Holidays Comm</span></div>
<div class="sq" style="left:940px;background:#00b050"></div><div class="lg" style="left:958px"><span style="letter-spacing:0.07px">Operations</span></div>
<div class="sq" style="left:1038px;background:#ffff00"></div><div class="lg" style="left:1056px"><span style="letter-spacing:-0.38px">Release Dates</span></div>
<div class="sq" style="left:1154px;background:#00b050"></div><div class="lg" style="left:1172px"><span style="letter-spacing:-0.09px">Vacations</span></div>
<div class="sq" style="left:1242px;background:#f7009c"></div><div class="lg" style="left:1260px"><span style="letter-spacing:0.25px">Marketing Members</span></div>


<div id="pop">
<div class="s" style="top:8px;background:#7030a0"></div><div class="l" style="top:8px"><span style="letter-spacing:0.03px">Anniversary</span></div>
<div class="s" style="top:33px;background:#c00000"></div><div class="l" style="top:33px"><span style="letter-spacing:0.12px">Birthday</span></div>
<div class="s" style="top:58px;background:#00b050"></div><div class="l" style="top:58px"><span style="letter-spacing:-0.43px">Business</span></div>
<div class="s" style="top:83px;background:#0070c0"></div><div class="l" style="top:83px"><span style="letter-spacing:0.22px">Get-together</span></div>
<div class="s" style="top:108px;background:#92d050"></div><div class="l" style="top:108px"><span style="letter-spacing:-0.01px">Gifts</span></div>
<div class="s" style="top:133px;background:#ffff00"></div><div class="l" style="top:133px"><span style="letter-spacing:0.17px">Holiday</span></div>
<div class="s" style="top:158px;background:#7030a0"></div><div class="l" style="top:158px"><span style="letter-spacing:-1.19px">HR</span></div>
<div class="s" style="top:183px;background:#00b050"></div><div class="l" style="top:183px"><span style="letter-spacing:-1.20px">IT</span></div>
<div class="s" style="top:208px;background:#002060"></div><div class="l" style="top:208px"><span style="letter-spacing:0.40px">Meeting</span></div>
<div class="s" style="top:233px;background:#ff0000"></div><div class="l" style="top:233px"><span style="letter-spacing:0.19px">Work hours</span></div>
</div>
<div id="tip"><span style="letter-spacing:-0.35px">Events</span></div>


<!-- right edge partial circle -->
<div style="left:1408px;top:218px;width:28px;height:28px;border-radius:14px;background:#fff;box-shadow:0 1px 5px rgba(0,0,0,.22)"></div><div style="left:1413px;top:231px;width:3px;height:1px;background:#b9a3e0"></div>
</div>
</div>
</body></html>
